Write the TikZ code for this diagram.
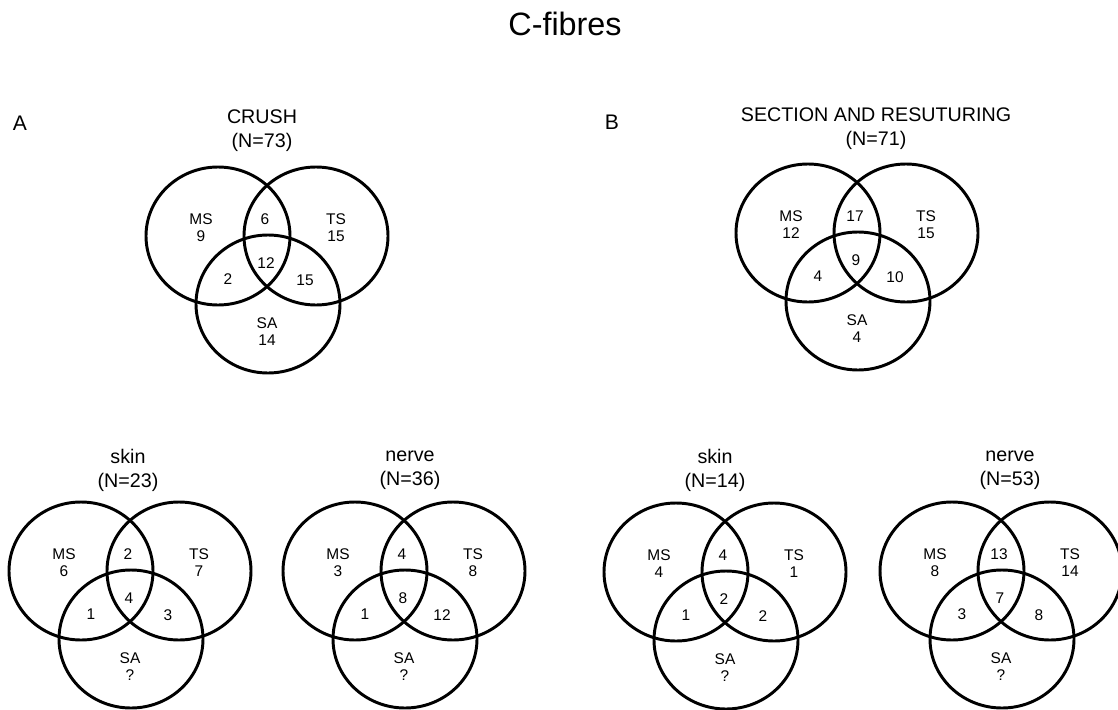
\documentclass[tikz,border=0pt]{standalone}
\usepackage{fontspec}
\setmainfont{Liberation Sans}
\usepackage{tikz}

\tikzset{
  venn/.style = {line width = 2.1pt},
  lbl/.style = {font = \fontsize{11}{12}\selectfont, align = center, inner sep = 0pt},
  ttl/.style = {font = \fontsize{14}{17}\selectfont, align = center, inner sep = 0pt},
  panel/.style = {font = \fontsize{15}{18}\selectfont, inner sep = 0pt}
}

% one three-set diagram, placed at the MS centre #1
\newcommand{\venn}[8]{%
  \begin{scope}[shift = {(#1)}]
    \draw[venn] (0,0) ellipse [x radius = 72, y radius = 69];
    \draw[venn] (98,0) ellipse [x radius = 72, y radius = 69];
    \draw[venn] (50,68) ellipse [x radius = 72, y radius = 69];
    \node[lbl] (#1-ms) at (-17,-8) {MS\\#2};
    \node[lbl] (#1-ts) at (118,-8) {TS\\#3};
    \node[lbl] (#1-sa) at (49,96) {SA\\#4};
    \node[lbl] (#1-mt) at (47,-17) {#5};
    \node[lbl] (#1-all) at (48,27) {#6};
    \node[lbl] (#1-msa) at (10,43) {#7};
    \node[lbl] (#1-tsa) at (87,44) {#8};
  \end{scope}}

\begin{document}
\begin{tikzpicture}[x = 0.025cm, y = -0.025cm]
          \useasboundingbox (0,0) rectangle (1118,710);
          \node[font = \fontsize{23}{27}\selectfont, inner sep = 0pt] (title) at (565,24) {C-fibres};
          \node[panel] (A) at (20,123) {A};
          \node[panel] (B) at (612,122) {B};

          % A: crush
          \coordinate (crushA) at (218,236);
          \node[ttl] (crushA-t) at (262,131) {CRUSH\\(N=73)};
          \venn{crushA}{9}{15}{14}{6}{12}{2}{15}
          \coordinate (skinA) at (81,571);
          \node[ttl] (skinA-t) at (128,470) {skin\\(N=23)};
          \venn{skinA}{6}{7}{?}{2}{4}{1}{3}
          \coordinate (nerveA) at (355,571);
          \node[ttl] (nerveA-t) at (410,470) {nerve\\(N=36)};
          \venn{nerveA}{3}{8}{?}{4}{8}{1}{12}

          % B: section and resuturing
          \coordinate (crushB) at (808,233);
          \node[ttl] (crushB-t) at (876,129) {SECTION AND RESUTURING\\(N=71)};
          \venn{crushB}{12}{15}{4}{17}{9}{4}{10}
          \coordinate (skinB) at (676,572);
          \node[ttl] (skinB-t) at (715,470) {skin\\(N=14)};
          \venn{skinB}{4}{1}{?}{4}{2}{1}{2}
          \coordinate (nerveB) at (952,571);
          \node[ttl] (nerveB-t) at (1010,470) {nerve\\(N=53)};
          \venn{nerveB}{8}{14}{?}{13}{7}{3}{8}
        \end{tikzpicture}
\end{document}
